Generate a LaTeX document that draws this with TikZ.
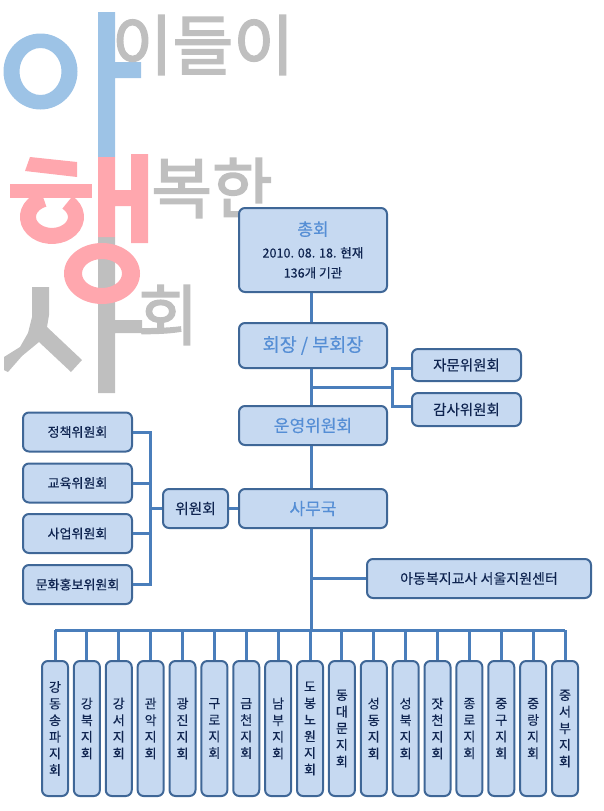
\documentclass[tikz,border=0pt]{standalone}
\usepackage{fontspec}
\setmainfont[FakeBold=0.25]{Noto Sans CJK KR}
\newfontfamily\logofont[FakeBold=2.4]{Noto Sans CJK KR}
\usetikzlibrary{positioning}
\definecolor{boxfill}{HTML}{C6D9F1}
\definecolor{boxline}{HTML}{3F6797}
\definecolor{wireblue}{HTML}{4A7EBB}
\definecolor{headblue}{HTML}{558ED5}
\definecolor{inkblue}{HTML}{0F2450}
\definecolor{logoblue}{HTML}{9DC3E6}
\definecolor{logopink}{HTML}{FFA7AE}
\definecolor{logogray}{HTML}{BFBFBF}
\newcommand{\countline}[1]{\fontsize{12.6}{15}\selectfont\color{inkblue}#1}
\tikzset{
  basebox/.style={draw=boxline,fill=boxfill,line width=2pt,rounded corners=6pt,inner sep=0pt,align=center,text=inkblue},
  headbox/.style={basebox,minimum width=148pt,text=headblue,font=\fontsize{17}{20}\selectfont},
  sidebox/.style={basebox,minimum width=109pt,minimum height=39pt,font=\fontsize{13}{15}\selectfont},
  branchbox/.style={basebox,minimum width=26pt,minimum height=135pt,font=\fontsize{13}{16.6}\selectfont,text width=26pt},
  wire/.style={draw=wireblue,line width=3pt},
  biglogo/.style={font=\logofont\fontsize{66}{66}\selectfont,text=logogray,inner sep=0pt}
}
\begin{document}
\begin{tikzpicture}[x=1pt,y=-1pt]
        \useasboundingbox (0,0) rectangle (603,811);

        % logo
        \fill[logoblue,even odd rule] (40.5,71.5) ellipse [x radius=37,y radius=38] (40.5,71.5) ellipse [x radius=21,y radius=23.5];
        \fill[logoblue] (98,12) rectangle (115,157) (115,62) rectangle (141,78);
        \fill[logogray] (98,237) rectangle (115,393) (115,320) rectangle (142,333);
        \fill[logogray] (32,287) -- (49,287) -- (49,315) -- (47,327) -- (82,360) -- (71,372) -- (39,342) -- (22,356) -- (8,372) -- (4,370) -- (4,357) -- (20,347) -- (28,333) -- (32,317) -- cycle;
        \fill[logopink] (30,157) -- (77,162) -- (77,177) -- (25,171) -- cycle;
        \fill[logopink] (10,184) rectangle (92,198);
        \draw[logopink,line width=16pt] (67.4,202.4) arc [start angle=-50,end angle=250,x radius=24,y radius=19];
        \fill[logopink] (98,157) rectangle (115,237) (131,154) rectangle (148,243) (115,190) rectangle (131,206);
        \fill[logopink,even odd rule] (102,273.5) ellipse [x radius=38,y radius=30.5] (102,273.5) ellipse [x radius=20,y radius=14.5];

        \node[biglogo] (deul) at (203,45) {이들이};
        \node[biglogo] (bokhan) at (212,188) {복한};
        \node[biglogo] (hoe) at (168,315) {회};

        % head column
        \node[headbox,minimum height=84pt] (chonghoe) at (313,250) {총회\\[2pt]\countline{2010. 08. 18. 현재}\\\countline{136개 기관}};
        \node[headbox,minimum height=45pt,font=\fontsize{18.5}{20}\selectfont] (hoejang) at (313,345.5) {회장 / 부회장};
        \node[headbox,minimum height=39pt] (unyeong) at (313,425.5) {운영위원회};
        \node[headbox,minimum height=39pt] (samuguk) at (313,508.5) {사무국};

        \node[sidebox,minimum height=32pt,font=\fontsize{14.5}{16}\selectfont] (jamun) at (466.5,365) {자문위원회};
        \node[sidebox,minimum height=33pt,font=\fontsize{14.5}{16}\selectfont] (gamsa) at (466.5,409.5) {감사위원회};

        % committees
        \node[sidebox] (jeongchaek) at (77.5,432) {정책위원회};
        \node[sidebox] (gyoyuk) at (77.5,483) {교육위원회};
        \node[sidebox] (saeop) at (77.5,533.5) {사업위원회};
        \node[sidebox] (munhwa) at (77.5,584.5) {문화홍보위원회};
        \node[sidebox,minimum width=65pt,font=\fontsize{14.7}{16}\selectfont] (wiwonhoe) at (195.5,508.5) {위원회};

        \node[sidebox,minimum width=224pt,font=\fontsize{14}{16}\selectfont] (center) at (479,578.5) {아동복지교사 서울지원센터};

        % branches
        \foreach \i/\name in {0/강\\동\\송\\파\\지\\회,1/강\\북\\지\\회,2/강\\서\\지\\회,3/관\\악\\지\\회,4/광\\진\\지\\회,5/구\\로\\지\\회,6/금\\천\\지\\회,7/남\\부\\지\\회,8/도\\봉\\노\\원\\지\\회,9/동\\대\\문\\지\\회,10/성\\동\\지\\회,11/성\\북\\지\\회,12/잣\\천\\지\\회,13/종\\로\\지\\회,14/중\\구\\지\\회,15/중\\랑\\지\\회,16/중\\서\\부\\지\\회}
            \node[branchbox] (branch\i) at (55+31.875*\i,728.5) {\name};

        \coordinate (topmid) at (311,387);
        \coordinate (topfork) at (392,387);
        \coordinate (leftfork) at (150.7,508.5);
        \coordinate (lowmid) at (311,578.5);
        \coordinate (rail) at (311,630);

        % connectors
        \path[wire] (chonghoe.south -| rail) -- (hoejang.north -| rail);
        \path[wire] (hoejang.south -| rail) -- (unyeong.north -| rail);
        \path[wire] (unyeong.south -| rail) -- (samuguk.north -| rail);
        \path[wire] (samuguk.south -| rail) -- (rail);
        \path[wire] (topmid) -- (topfork);
        \path[wire] ([yshift=-3pt]jamun.west) -| (topfork) |- ([yshift=3.5pt]gamsa.west);
        \path[wire] (lowmid) -- (center.west);

        \path[wire] (samuguk.west) -- (wiwonhoe.east);
        \path[wire] (wiwonhoe.west) -- (leftfork);
        \path[wire] (jeongchaek.east) -| (leftfork);
        \path[wire] (munhwa.east) -| (leftfork);
        \path[wire] (gyoyuk.east) -- (gyoyuk.east -| leftfork);
        \path[wire] (saeop.east) -- (saeop.east -| leftfork);

        \path[wire] (branch0.north |- rail) -- (branch16.north |- rail);
        \foreach \i in {0,...,16}
            \path[wire] (branch\i.north |- rail) -- (branch\i.north);
\end{tikzpicture}
\end{document}
